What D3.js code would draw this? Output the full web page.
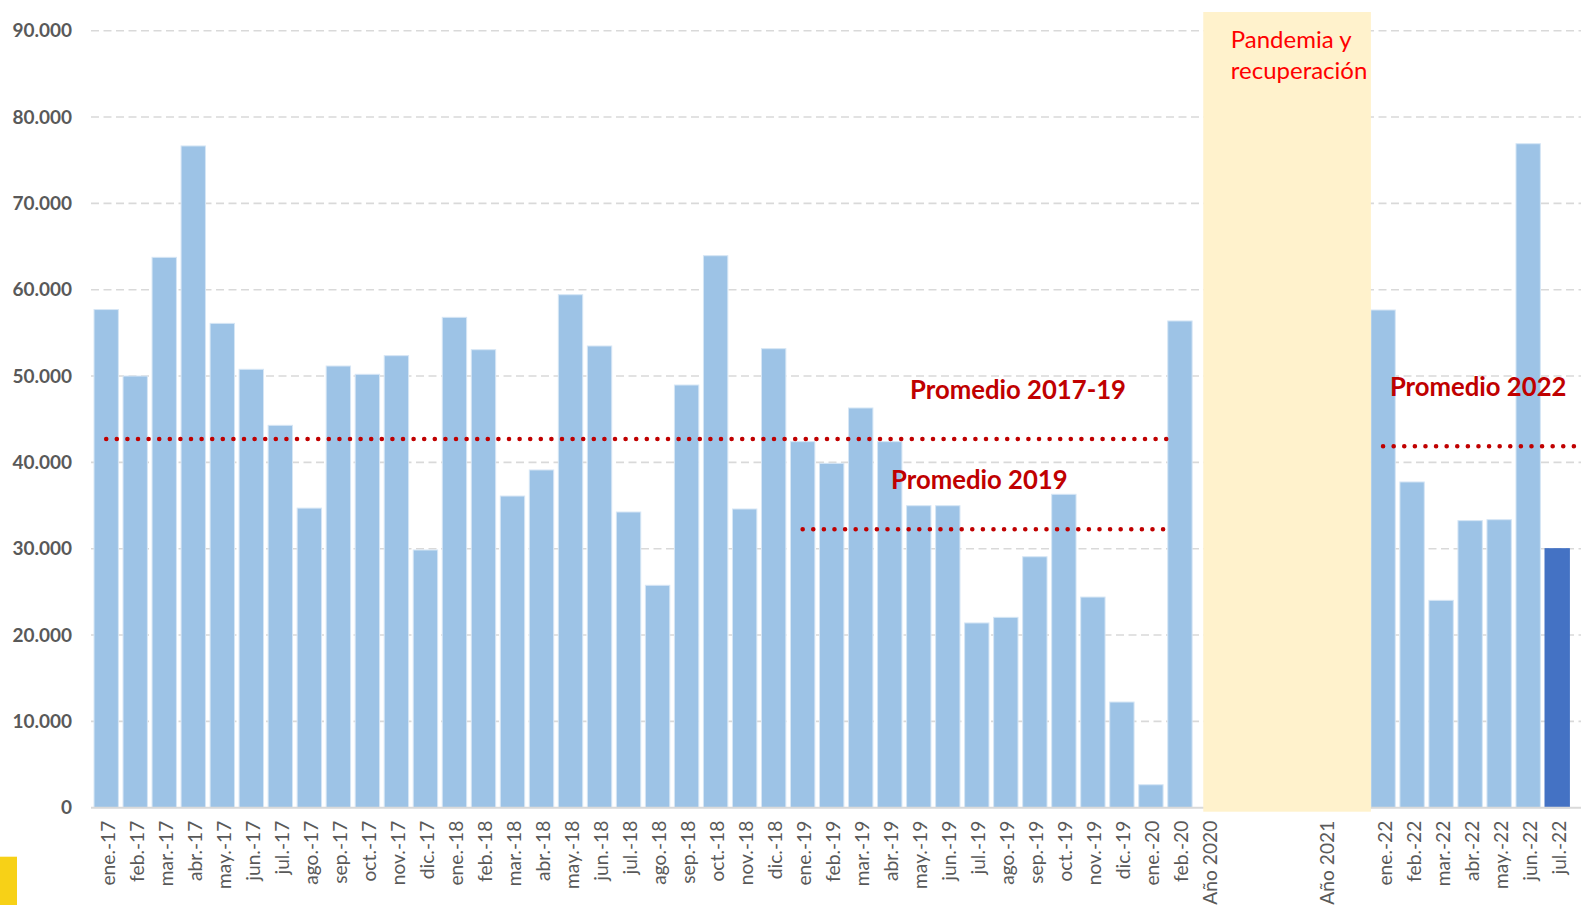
<!DOCTYPE html>
<html>
<head>
<meta charset="utf-8">
<script src="https://cdn.jsdelivr.net/npm/d3@7"></script>
<style>
  html, body { margin: 0; padding: 0; background: #ffffff; }
  svg { display: block; }
</style>
</head>
<body>
<svg id="chart" width="1581" height="905"></svg>
<script>
// ---- Data ----
const categories = [
  "ene.-17","feb.-17","mar.-17","abr.-17","may.-17","jun.-17","jul.-17","ago.-17","sep.-17","oct.-17","nov.-17","dic.-17",
  "ene.-18","feb.-18","mar.-18","abr.-18","may.-18","jun.-18","jul.-18","ago.-18","sep.-18","oct.-18","nov.-18","dic.-18",
  "ene.-19","feb.-19","mar.-19","abr.-19","may.-19","jun.-19","jul.-19","ago.-19","sep.-19","oct.-19","nov.-19","dic.-19",
  "ene.-20","feb.-20","Año 2020","","","","Año 2021","",
  "ene.-22","feb.-22","mar.-22","abr.-22","may.-22","jun.-22","jul.-22"
];
const values = [
  57700, 50000, 63750, 76650, 56100, 50780, 44290, 34700, 51160, 50200, 52360, 29850,
  56800, 53050, 36100, 39120, 59420, 53480, 34250, 25760, 48960, 63940, 34600, 53170,
  42400, 39890, 46300, 42400, 34980, 34980, 21400, 22050, 29070, 36300, 24400, 12240,
  2660, 56380, null, null, null, null, null, null,
  57650, 37730, 24020, 33250, 33360, 76910, 30000
];
const highlightIndex = 50; // jul.-22
const yTicks = [0, 10000, 20000, 30000, 40000, 50000, 60000, 70000, 80000, 90000];
const averageNames = ["Promedio 2017-19", "Promedio 2019", "Promedio 2022"];
const averageValues = [42700, 32250, 41860];
const averageStart = [0, 24, 44];   // category index where each average line starts
const averageEnd = [37, 37, 50];    // category index where each average line ends
const pandemicLabel = ["Pandemia y", "recuperación"];
const pandemicRange = [38, 44];     // shaded categories

// ---- Layout ----
const svg = d3.select("#chart");
const W = 1581, H = 905;
const plotLeft = 91.7, plotRight = 1571.7, plotTop = 30.7, plotBottom = 807.7;

const x = d3.scaleBand()
  .domain(d3.range(categories.length))
  .range([plotLeft, plotRight])
  .paddingInner(0.16)
  .paddingOuter(0.08);

const y = d3.scaleLinear().domain([0, 90000]).range([plotBottom, plotTop]);

const fmt = v => v === 0 ? "0" : d3.format(",")(v).replace(/,/g, ".");

// gridlines
svg.append("g")
  .selectAll("line")
  .data(yTicks.filter(d => d > 0))
  .join("line")
  .attr("x1", 91).attr("x2", W)
  .attr("y1", d => y(d)).attr("y2", d => y(d))
  .attr("stroke", "#D9D9D9")
  .attr("stroke-width", 1.6)
  .attr("stroke-dasharray", "8,4.5");

// y axis labels
const yAxis = d3.axisLeft(y).tickValues(yTicks).tickFormat(fmt).tickSize(0).tickPadding(0);
const yg = svg.append("g").attr("transform", "translate(72,0)").call(yAxis);
yg.select(".domain").remove();
yg.selectAll("text")
  .attr("font-family", "Lato, 'Open Sans', sans-serif")
  .attr("font-weight", "bold")
  .attr("font-size", 19)
  .attr("fill", "#595959");

// bars
svg.append("g")
  .selectAll("rect")
  .data(values.map((v, i) => ({v, i})).filter(d => d.v !== null))
  .join("rect")
  .attr("x", d => x(d.i))
  .attr("width", x.bandwidth())
  .attr("y", d => y(d.v))
  .attr("height", d => y(0) - y(d.v))
  .attr("fill", d => d.i === highlightIndex ? "#4472C4" : "#9DC3E6")
  .attr("stroke", d => d.i === highlightIndex ? "#4472C4" : "#D6E6F5")
  .attr("stroke-width", 1);

// baseline
svg.append("line")
  .attr("x1", 91).attr("x2", W)
  .attr("y1", y(0)).attr("y2", y(0))
  .attr("stroke", "#D9D9D9").attr("stroke-width", 2);

// pandemic shade
const shadeX0 = x(pandemicRange[0]) + 6.5;
const shadeX1 = x(pandemicRange[1]);
svg.append("rect")
  .attr("x", shadeX0)
  .attr("y", 12)
  .attr("width", shadeX1 - shadeX0)
  .attr("height", y(0) + 4 - 12)
  .attr("fill", "#FFF2CC");

const pt = svg.append("text")
  .attr("font-family", "Lato, 'Open Sans', sans-serif")
  .attr("font-size", 24)
  .attr("fill", "#FF0000");
pandemicLabel.forEach((t, k) => {
  pt.append("tspan").attr("x", shadeX0 + 27.5).attr("y", 48 + k * 30.7).text(t);
});

// x axis labels
svg.append("g")
  .selectAll("text")
  .data(categories.map((c, i) => ({c, i})).filter(d => d.c !== ""))
  .join("text")
  .attr("transform", d => `translate(${x(d.i) + x.bandwidth() / 2 + 8.5},${y(0) + 13}) rotate(-90)`)
  .attr("text-anchor", "end")
  .attr("font-family", "Lato, 'Open Sans', sans-serif")
  .attr("font-size", 19.2)
  .attr("fill", "#595959")
  .text(d => d.c);

// average dotted lines
const avg = averageNames.map((n, k) => ({
  name: n, v: averageValues[k],
  x1: x(averageStart[k]) + x.bandwidth() / 2,
  x2: averageEnd[k] === categories.length - 1 ? W : x(averageEnd[k]) + 4
}));
svg.append("g")
  .selectAll("line")
  .data(avg)
  .join("line")
  .attr("x1", d => d.x1).attr("x2", d => d.x2)
  .attr("y1", d => y(d.v)).attr("y2", d => y(d.v))
  .attr("stroke", "#C00000")
  .attr("stroke-width", 4.6)
  .attr("stroke-linecap", "round")
  .attr("stroke-dasharray", "0,10.6");

// average labels
const labelPos = [
  {xi: 27, dx: 32.5, v: 47340},
  {xi: 27, dx: 13.5, v: 36900},
  {xi: 44, dx: 19, v: 47700}
];
svg.append("g")
  .selectAll("text")
  .data(avg)
  .join("text")
  .attr("x", (d, k) => x(labelPos[k].xi) + labelPos[k].dx)
  .attr("y", (d, k) => y(labelPos[k].v))
  .attr("font-family", "Lato, 'Open Sans', sans-serif")
  .attr("font-weight", "bold")
  .attr("font-size", 25.7)
  .attr("fill", "#C00000")
  .text(d => d.name);

// decorative corner block
svg.append("rect")
  .attr("x", 0).attr("y", 856.7)
  .attr("width", 17).attr("height", H - 856.7)
  .attr("fill", "#F7D117");
</script>
</body>
</html>
